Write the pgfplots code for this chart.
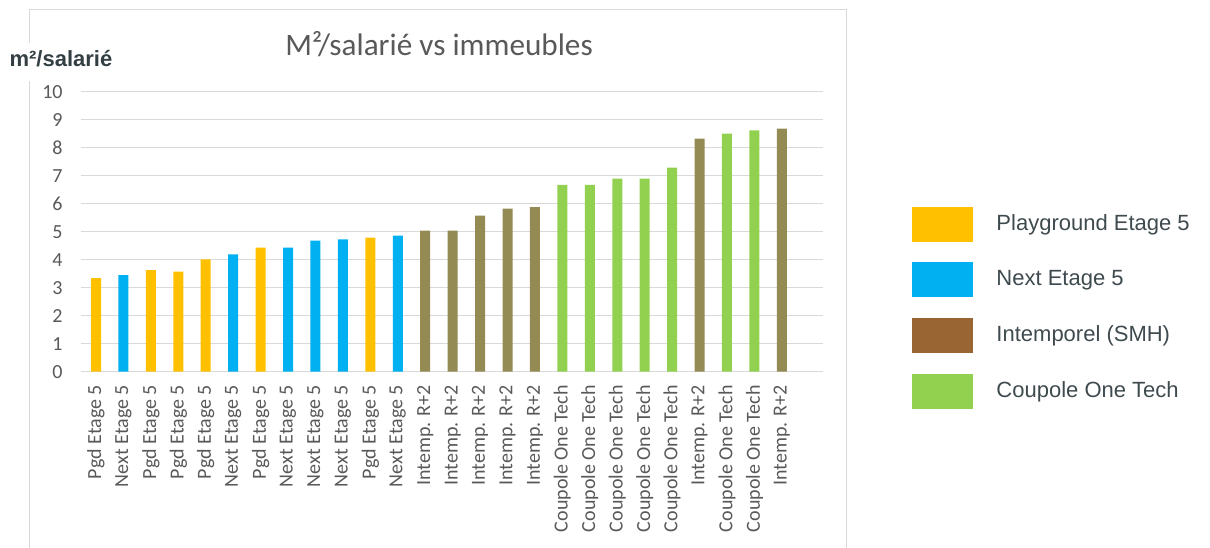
\documentclass[border=0pt]{standalone}
\usepackage{pgfplots}
\pgfplotsset{compat=1.18}
\usepackage{fontspec}
\setmainfont{Carlito}
\newfontfamily\arial{Liberation Sans}
\definecolor{cOr}{HTML}{FFC000}
\definecolor{cBl}{HTML}{00B0F0}
\definecolor{cOl}{HTML}{948A54}
\definecolor{cBr}{HTML}{996633}
\definecolor{cGr}{HTML}{92D050}
\definecolor{cGrid}{HTML}{D9D9D9}
\definecolor{cTick}{HTML}{595959}
\definecolor{cLeg}{HTML}{3F4A4F}
\definecolor{cLab}{HTML}{343F44}
\begin{document}
\begin{tikzpicture}
\useasboundingbox (0,0) rectangle (605pt,273.5pt);
\draw[cGrid, line width=0.6pt] (14.65pt,-2pt) -- (14.65pt,268.85pt) -- (423.35pt,268.85pt) -- (423.35pt,-2pt);
\begin{axis}[
  at={(40.5pt,87.65pt)}, anchor=south west,
  scale only axis, width=371pt, height=140pt,
  xmin=-0.547, xmax=26.5, ymin=0, ymax=10,
  ytick={0,1,...,10},
  xtick={0,1,...,25},
  xticklabels={Pgd Etage 5,Next Etage 5,Pgd Etage 5,Pgd Etage 5,Pgd Etage 5,Next Etage 5,Pgd Etage 5,Next Etage 5,Next Etage 5,Next Etage 5,Pgd Etage 5,Next Etage 5,Intemp. R+2,Intemp. R+2,Intemp. R+2,Intemp. R+2,Intemp. R+2,Coupole One Tech,Coupole One Tech,Coupole One Tech,Coupole One Tech,Coupole One Tech,Intemp. R+2,Coupole One Tech,Coupole One Tech,Intemp. R+2},
  ymajorgrids, major grid style={cGrid, line width=0.6pt},
  axis line style={draw=none},
  major tick length=0pt,
  /pgf/number format/assume math mode=true,
  tick label style={font=\fontsize{10}{12}\selectfont, text=cTick, inner sep=0pt},
  yticklabel style={anchor=east},
  yticklabel shift=9pt,
  xticklabel style={rotate=90, anchor=east},
  xticklabel shift=6.5pt,
  every axis title shift=0pt,
  title={M²/salarié vs immeubles},
  title style={at={(0.4825,1.131)}, anchor=base, font=\fontsize{15.6}{18}\selectfont, text=cTick, inner sep=0pt},
  ylabel={m²/salarié},
  ylabel style={at={(-0.027,1.089)}, anchor=base, rotate=-90, font=\arial\bfseries\fontsize{11}{13}\selectfont, text=cLab, fill=white, inner xsep=2pt, inner ysep=4pt, text depth=3pt},
  legend style={at={(1.1195,0.589)}, anchor=north west, draw=none, fill=none, inner sep=0pt, outer sep=0pt, row sep=10.4pt,
    font=\arial\fontsize{11}{13}\selectfont, text=cLeg,
    /tikz/every odd column/.append style={column sep=10pt}},
  legend cell align=left,
]
\addplot[ybar, bar width=5pt, bar shift=0pt, fill=cOr, draw=none, forget plot] coordinates {(0,3.34) (2,3.63) (3,3.57) (4,4.01) (6,4.43) (10,4.79)};
\addplot[ybar, bar width=5pt, bar shift=0pt, fill=cBl, draw=none, forget plot] coordinates {(1,3.45) (5,4.19) (7,4.43) (8,4.68) (9,4.73) (11,4.86)};
\addplot[ybar, bar width=5pt, bar shift=0pt, fill=cOl, draw=none, forget plot] coordinates {(12,5.04) (13,5.04) (14,5.57) (15,5.82) (16,5.88) (22,8.32) (25,8.68)};
\addplot[ybar, bar width=5pt, bar shift=0pt, fill=cGr, draw=none, forget plot] coordinates {(17,6.67) (18,6.67) (19,6.90) (20,6.90) (21,7.29) (23,8.50) (24,8.62)};
\addlegendimage{legend image code/.code={\fill[cOr] (0pt,-8.5pt) rectangle (30pt,8.5pt);}}
\addlegendentry{Playground Etage 5}
\addlegendimage{legend image code/.code={\fill[cBl] (0pt,-8.5pt) rectangle (30pt,8.5pt);}}
\addlegendentry{Next Etage 5}
\addlegendimage{legend image code/.code={\fill[cBr] (0pt,-8.5pt) rectangle (30pt,8.5pt);}}
\addlegendentry{Intemporel (SMH)}
\addlegendimage{legend image code/.code={\fill[cGr] (0pt,-8.5pt) rectangle (30pt,8.5pt);}}
\addlegendentry{Coupole One Tech}
\end{axis}
\end{tikzpicture}
\end{document}
